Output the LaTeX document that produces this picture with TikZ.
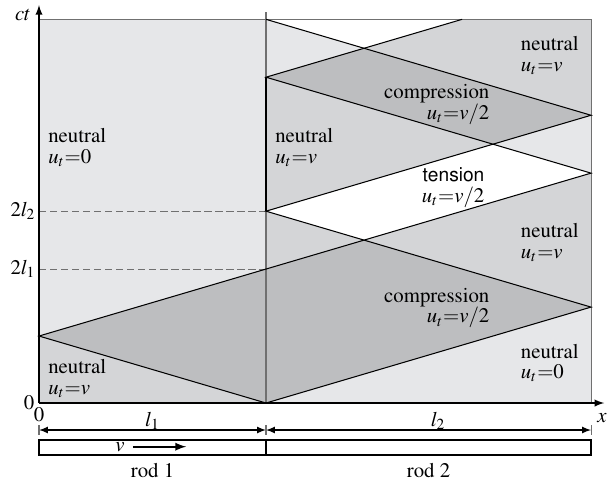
\documentclass[tikz,border=0pt]{standalone}
\usepackage[T1]{fontenc}
\usepackage{mathptmx}
\usepackage[scaled=0.92]{helvet}
\usetikzlibrary{arrows}
\definecolor{zerogray}{HTML}{E6E7E9}
\definecolor{vgray}{HTML}{D4D5D7}
\definecolor{compgray}{HTML}{BDBEC0}
\definecolor{framegray}{HTML}{707070}
\newcommand{\ltwo}{1.432}

\begin{document}
\begin{tikzpicture}[x=3.836cm, y=1.132cm,
		wave/.style = {line width=0.5pt},
		frame/.style = {draw=framegray, line width=0.5pt},
		lbl/.style = {align=left, anchor=west, inner sep=1pt},
		rlbl/.style = {align=right, anchor=east, inner sep=1pt},
		ax/.style = {inner sep=1.5pt},
		>=latex
	]
	\useasboundingbox (-0.659cm,-1.352cm) rectangle (9.616cm,6.811cm);

	\coordinate (o)  at (0,0);
	\coordinate (r1) at (0,1);
	\coordinate (r2) at (0,2);
	\coordinate (r3) at (0,2*\ltwo);
	\coordinate (rt) at (0,4*\ltwo);
	\coordinate (i0) at (1,0);
	\coordinate (i1) at (1,2);
	\coordinate (i2) at (1,2*\ltwo);
	\coordinate (i3) at (1,2+2*\ltwo);
	\coordinate (i4) at (1,4*\ltwo);
	\coordinate (e0) at (1+\ltwo,0);
	\coordinate (e1) at (1+\ltwo,\ltwo);
	\coordinate (e2) at (1+\ltwo,2+\ltwo);
	\coordinate (e3) at (1+\ltwo,3*\ltwo);
	\coordinate (e4) at (1+\ltwo,4*\ltwo);
	\coordinate (c1) at (\ltwo,\ltwo+1);
	\coordinate (c2) at (2,2*\ltwo+1);
	\coordinate (c3) at (\ltwo,3*\ltwo+1);
	\coordinate (t1) at (2*\ltwo-1,4*\ltwo);

	\fill[zerogray] (o) rectangle (e4);
	\fill[vgray] (o) -- (i0) -- (r1) -- cycle;
	\fill[compgray] (r1) -- (i0) -- (i1) -- cycle;
	\fill[compgray] (i0) -- (e1) -- (c1) -- (i1) -- cycle;
	\fill[vgray] (i1) -- (c1) -- (i2) -- cycle;
	\fill[vgray] (c1) -- (e1) -- (e2) -- cycle;
	\fill[white] (i2) -- (c1) -- (e2) -- (c2) -- cycle;
	\fill[vgray] (i2) -- (c2) -- (i3) -- cycle;
	\fill[compgray] (i3) -- (c2) -- (e3) -- (c3) -- cycle;
	\fill[vgray] (c3) -- (e3) -- (e4) -- (t1) -- cycle;
	\fill[white] (i4) -- (c3) -- (t1) -- cycle;

	\draw[frame] (rt) -- (e4) -- (e0);
	\draw[frame] (i0) -- (1,5.84);
	\draw[line width=0.8pt] (i2) -- (i3);
	\draw[framegray, dash pattern=on 3.5pt off 1.8pt] (r2) -- (i1);
	\draw[framegray, dash pattern=on 3.5pt off 1.8pt] (r3) -- (i2);

	\draw[wave] (i1) -- (r1) -- (i0) -- (e1) -- (i2) -- (e3) -- (i4);
	\draw[wave] (i1) -- (e2) -- (i3) -- (t1);

	\draw[->, line width=0.6pt] (o) -- (0,5.94);
	\draw[->, line width=0.6pt] (o) -- (2.49,0);

	\node[ax, anchor=east] (ct) at (-0.02,5.79) {$ct$};
	\node[ax, anchor=east] (tl2) at (r3) {$2l_2$};
	\node[ax, anchor=east] (tl1) at (r2) {$2l_1$};
	\node[ax, anchor=east] (zy) at (-0.005,0) {$0$};
	\node[ax, anchor=north] (zx) at (0,-0.02) {$0$};
	\node (xl) at (2.48,-0.224) {$x$};

	\node[lbl] (n0) at (0.03,3.81) {neutral\\[-2pt]$u_t{=}0$};
	\node[lbl] (n1) at (0.03,0.36) {neutral\\[-2pt]$u_t{=}v$};
	\node[lbl] (n2) at (1.03,3.81) {neutral\\[-2pt]$u_t{=}v$};
	\node[rlbl] (cp1) at (1.995,4.45) {compression\\[-2pt]$u_t{=}v/2$};
	\node[rlbl] (tn) at (1.973,3.216) {\textsf{tension}\\[-2pt]$u_t{=}v/2$};
	\node[lbl] (n3) at (2.112,5.19) {neutral\\[-2pt]$u_t{=}v$};
	\node[lbl] (n4) at (2.112,2.40) {neutral\\[-2pt]$u_t{=}v$};
	\node[rlbl] (cp2) at (1.995,1.418) {compression\\[-2pt]$u_t{=}v/2$};
	\node[lbl] (n5) at (2.112,0.597) {neutral\\[-2pt]$u_t{=}0$};

	\coordinate (d0) at (0,-0.403);
	\coordinate (d1) at (1,-0.403);
	\coordinate (d2) at (1+\ltwo,-0.403);
	\draw[<->, line width=0.5pt] (d0) -- (d1);
	\draw[<->, line width=0.5pt] (d1) -- (d2);
	\foreach \p in {d0,d1,d2}
		\draw[framegray, line width=0.5pt] ([yshift=-0.08cm]\p) -- ([yshift=0.08cm]\p);
	\node (l1) at (0.5,-0.27) {$l_1$};
	\node (l2) at (1.758,-0.27) {$l_2$};

	\draw[line width=0.9pt] (0,-0.552) rectangle (1+\ltwo,-0.776);
	\draw[line width=0.9pt] (1,-0.552) -- (1,-0.776);
	\node (v) at (0.357,-0.66) {$v$};
	\coordinate (va) at (0.414,-0.652);
	\coordinate (vb) at (0.648,-0.652);
	\draw[-latex, line width=0.8pt] (va) -- (vb);
	\node (rod1) at (0.5,-1.015) {rod 1};
	\node (rod2) at (1.716,-1.015) {rod 2};
\end{tikzpicture}
\end{document}
